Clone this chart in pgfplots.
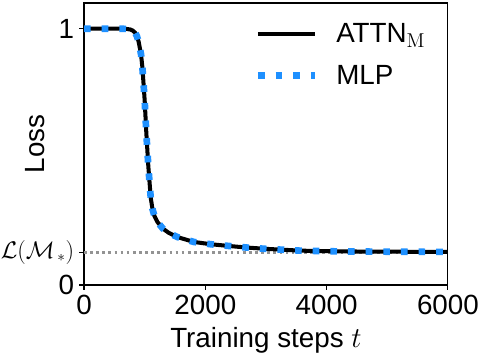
\documentclass[border=0pt]{standalone}
\usepackage[no-math]{fontspec}
\setmainfont{Liberation Sans}
\usepackage{pgfplots}
\pgfplotsset{compat=1.18}
\definecolor{mlpblue}{RGB}{30,144,255}

\pgfplotstableread{
t loss
0 1.0
200 1.0
400 1.0
600 1.0
700 0.999
760 0.997
800 0.993
840 0.985
870 0.972
900 0.95
940 0.90
962 0.85
980 0.79
1000 0.72
1028 0.59
1061 0.46
1100 0.34
1130 0.295
1160 0.27
1210 0.246
1300 0.22
1400 0.203
1540 0.187
1810 0.168
2090 0.159
2400 0.152
2690 0.146
3000 0.141
3570 0.134
4200 0.131
5000 0.130
6000 0.129
}\losscurve

\begin{document}
\begin{tikzpicture}
\useasboundingbox (-60.5pt,-54pt) rectangle (285.1pt,205.2pt);
\begin{axis}[
    at={(0,0)}, anchor=south west,
    scale only axis,
    width=262pt, height=203pt,
    xmin=0, xmax=6000, ymin=0, ymax=1.1,
    xtick={0,2000,4000,6000},
    ytick={0,0.128,1},
    yticklabels={0,{\fontsize{16}{19}\selectfont$\mathcal{L}(\mathcal{M}_{\,*})$},1},
    scaled x ticks=false,
    /pgf/number format/assume math mode=true,
    /pgf/number format/1000 sep={},
    tick align=outside,
    tick pos=left,
    major tick length=3.6pt,
    every tick/.style={black, line width=0.8pt},
    axis line style={line width=0.8pt},
    tick label style={font=\fontsize{20}{24}\selectfont},
    label style={font=\fontsize{20}{24}\selectfont},
    xlabel={Training steps $t$},
    ylabel={Loss},
    xlabel style={anchor=center, at={(axis description cs:0.5,-0.197)}},
    ylabel style={anchor=center, at={(axis description cs:-0.134,0.5)}},
    legend style={draw=none, fill=none, at={(axis description cs:0.468,0.938)}, anchor=north west,
        font=\fontsize{20}{24}\selectfont, row sep=10.5pt, inner sep=0pt},
    legend cell align=left,
    legend image code/.code={\draw[#1] (0pt,0pt) -- (41pt,0pt);},
]
\addplot[gray!85, line width=1.9pt, dash pattern=on 1.9pt off 2.5pt, forget plot] coordinates {(0,0.128) (6000,0.128)};
\addplot[black, line width=2.9pt] table[x=t, y=loss] {\losscurve};
\addlegendentry{\hspace*{11pt}ATTN$_{\mathrm{M}}$}
\addplot[mlpblue, line width=4.8pt, dash pattern=on 4.8pt off 7.9pt] table[x=t, y=loss] {\losscurve};
\addlegendentry{\hspace*{11pt}MLP}
\end{axis}
\end{tikzpicture}
\end{document}
